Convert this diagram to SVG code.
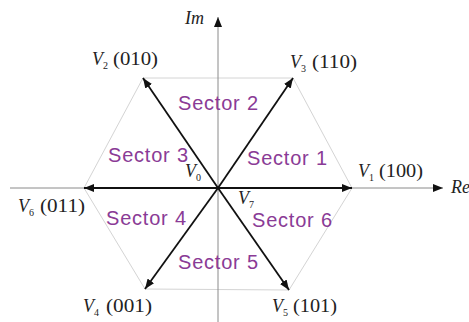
<svg xmlns="http://www.w3.org/2000/svg" width="469" height="322" viewBox="0 0 469 322">
<style>
.sec{font-family:"Liberation Sans",Arial,sans-serif;font-size:20px;fill:#8a3b96}
.lab{font-family:"Liberation Serif","Times New Roman",serif;font-size:18px;fill:#222}
.it{font-style:italic}
.sub{font-size:10px}
.vec{stroke:#111;stroke-width:1.8;fill:none;marker-end:url(#ah)}
.axis{stroke:#8a8a8a;stroke-width:1;fill:none}
.hex{stroke:#d4d4d4;stroke-width:1;fill:none}
</style>
<defs>
<marker id="ah" viewBox="0 0 10 8" refX="10" refY="4" markerWidth="10" markerHeight="8" markerUnits="userSpaceOnUse" orient="auto">
<path d="M0,0 L10,4 L0,8 Z" fill="#111"/>
</marker>
<marker id="axh" viewBox="0 0 10 8" refX="10" refY="4" markerWidth="10" markerHeight="8" markerUnits="userSpaceOnUse" orient="auto">
<path d="M0,0 L10,4 L0,8 Z" fill="#111"/>
</marker>
</defs>
<rect width="469" height="322" fill="#fff"/>
<g id="hexagon">
<polygon class="hex" points="143,78 293,78 352,188 289,290 145,289 84,188"/>
</g>
<g id="axes">
<line class="axis" x1="218" y1="322" x2="218" y2="17" marker-end="url(#axh)"/>
<line class="axis" x1="10" y1="188" x2="443" y2="188" marker-end="url(#axh)"/>
<text class="lab it" x="185" y="24">Im</text>
<text class="lab it" x="451" y="193">Re</text>
</g>
<g id="connectors">
<line class="vec" x1="218" y1="188" x2="352" y2="188"/>
<line class="vec" x1="218" y1="188" x2="84" y2="188"/>
<line class="vec" x1="218" y1="188" x2="143" y2="78"/>
<line class="vec" x1="218" y1="188" x2="293" y2="78"/>
<line class="vec" x1="218" y1="188" x2="145" y2="289"/>
<line class="vec" x1="218" y1="188" x2="289" y2="290"/>
</g>
<g id="V1"><text class="lab" x="358" y="177"><tspan class="it">V</tspan><tspan class="sub" dy="4">1</tspan></text><text class="lab" x="379" y="177" textLength="44" lengthAdjust="spacingAndGlyphs">(100)</text></g>
<g id="V2"><text class="lab" x="92" y="65"><tspan class="it">V</tspan><tspan class="sub" dy="4">2</tspan></text><text class="lab" x="113" y="65" textLength="45" lengthAdjust="spacingAndGlyphs">(010)</text></g>
<g id="V3"><text class="lab" x="290" y="68"><tspan class="it">V</tspan><tspan class="sub" dy="4">3</tspan></text><text class="lab" x="312" y="68" textLength="45" lengthAdjust="spacingAndGlyphs">(110)</text></g>
<g id="V4"><text class="lab" x="83" y="312"><tspan class="it">V</tspan><tspan class="sub" dy="4">4</tspan></text><text class="lab" x="106" y="312" textLength="46" lengthAdjust="spacingAndGlyphs">(001)</text></g>
<g id="V5"><text class="lab" x="272" y="312"><tspan class="it">V</tspan><tspan class="sub" dy="4">5</tspan></text><text class="lab" x="293" y="312" textLength="44" lengthAdjust="spacingAndGlyphs">(101)</text></g>
<g id="V6"><text class="lab" x="18" y="212"><tspan class="it">V</tspan><tspan class="sub" dy="4">6</tspan></text><text class="lab" x="40" y="212" textLength="45" lengthAdjust="spacingAndGlyphs">(011)</text></g>
<g id="V0"><text class="lab" x="185" y="177"><tspan class="it">V</tspan><tspan class="sub" dy="4">0</tspan></text></g>
<g id="V7"><text class="lab" x="238" y="204"><tspan class="it">V</tspan><tspan class="sub" dy="4">7</tspan></text></g>
<g id="sector1"><text class="sec" x="247" y="165" textLength="80">Sector 1</text></g>
<g id="sector2"><text class="sec" x="178" y="110" textLength="80">Sector 2</text></g>
<g id="sector3"><text class="sec" x="108" y="162" textLength="80">Sector 3</text></g>
<g id="sector4"><text class="sec" x="106" y="225" textLength="80">Sector 4</text></g>
<g id="sector5"><text class="sec" x="178" y="269" textLength="80">Sector 5</text></g>
<g id="sector6"><text class="sec" x="252" y="227" textLength="80">Sector 6</text></g>
</svg>
